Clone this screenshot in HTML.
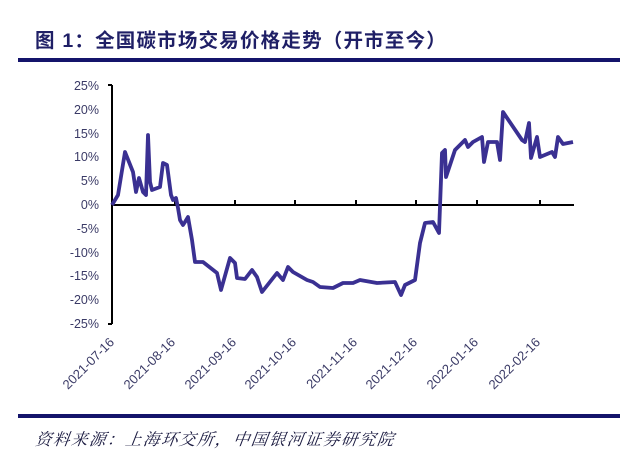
<!DOCTYPE html>
<html><head><meta charset="utf-8"><style>
html,body{margin:0;padding:0;background:#fff;}
svg{display:block;}
</style></head><body>
<svg width="640" height="472" viewBox="0 0 640 472" xmlns="http://www.w3.org/2000/svg">
<rect width="640" height="472" fill="#fff"/>
<text x="35" y="47" font-family="'Liberation Sans','Noto Sans CJK SC',sans-serif" font-size="19.5" font-weight="bold" fill="#1f1f66" letter-spacing="1.2">图 1：全国碳市场交易价格走势（开市至今）</text>
<rect x="18" y="58" width="602" height="4" fill="#14146b"/>
<g font-family="'Liberation Sans',sans-serif" font-size="12.5" fill="#3a3a66" text-anchor="end">
<text x="99" y="90">25%</text><text x="99" y="114">20%</text><text x="99" y="138">15%</text>
<text x="99" y="161">10%</text><text x="99" y="185">5%</text><text x="99" y="209">0%</text>
<text x="99" y="233">-5%</text><text x="99" y="257">-10%</text><text x="99" y="280">-15%</text>
<text x="99" y="304">-20%</text><text x="99" y="328">-25%</text>
</g>
<g stroke="#000" stroke-width="2" fill="none">
<line x1="112" y1="85" x2="112" y2="324"/>
<line x1="108" y1="85" x2="112" y2="85"/>
<line x1="108" y1="324" x2="112" y2="324"/>
<line x1="112" y1="205" x2="574" y2="205"/>
<line x1="175" y1="205" x2="175" y2="200"/><line x1="235" y1="205" x2="235" y2="200"/>
<line x1="295" y1="205" x2="295" y2="200"/><line x1="356" y1="205" x2="356" y2="200"/>
<line x1="416" y1="205" x2="416" y2="200"/><line x1="477" y1="205" x2="477" y2="200"/>
<line x1="540" y1="205" x2="540" y2="200"/>
</g>
<polyline fill="none" stroke="#3a3092" stroke-width="3.8" stroke-linejoin="round" points="112,205 118,195 125,152 133,172 136,192 139,178 143,192 146,195 148,135 150,182 152,190 160,187 163,163 167,165 171,195 173,200 176,198 178,208 180,220 183,225 185,222 188,217 192,240 195,262 203,262 217,273 221,290 230,258 235,263 237,278 245,279 252,270 257,277 262,292 277,273 283,280 288,267 293,272 307,280 313,282 320,287 333,288 343,283 353,283 360,280 377,283 395,282 401,295 405,285 415,280 420,243 425,223 433,222 439,233 442,153 445,150 446,177 450,165 455,150 465,140 468,147 473,142 482,137 484,162 488,142 497,142 500,160 503,112 522,140 525,142 529,123 531,158 537,137 540,157 552,152 555,157 558,137 563,144 573,142"/>
<g font-family="'Liberation Sans',sans-serif" font-size="13" fill="#3a3a66" text-anchor="end">
<text transform="translate(115,343) rotate(-45)">2021-07-16</text>
<text transform="translate(176,343) rotate(-45)">2021-08-16</text>
<text transform="translate(237,343) rotate(-45)">2021-09-16</text>
<text transform="translate(297,343) rotate(-45)">2021-10-16</text>
<text transform="translate(358,343) rotate(-45)">2021-11-16</text>
<text transform="translate(418,343) rotate(-45)">2021-12-16</text>
<text transform="translate(479,343) rotate(-45)">2022-01-16</text>
<text transform="translate(541,343) rotate(-45)">2022-02-16</text>
</g>
<rect x="18" y="414" width="602" height="4" fill="#14146b"/>
<text x="35" y="445" font-family="'Liberation Serif','Noto Serif CJK SC',serif" font-size="16.5" font-style="italic" fill="#1a1a40" letter-spacing="1.5" transform="skewX(-8) translate(62,0)">资料来源：上海环交所，中国银河证券研究院</text>
</svg>
</body></html>
